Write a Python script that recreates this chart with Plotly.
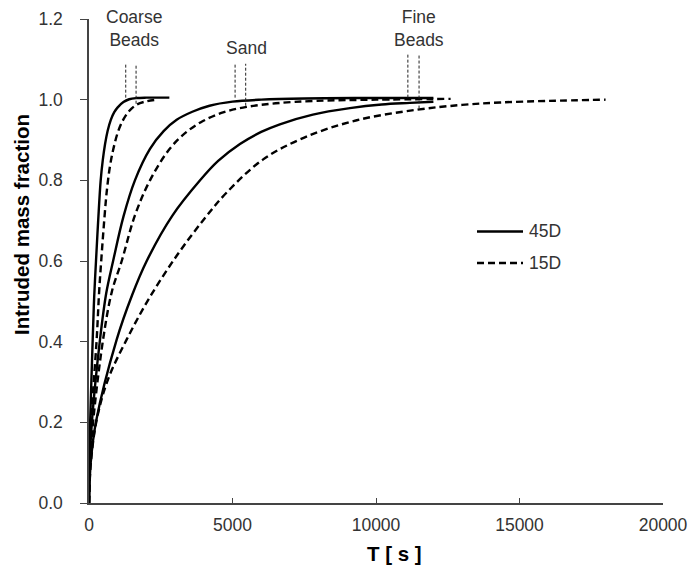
import plotly.graph_objects as go

# Intrusion time (s) and intruded mass fraction for each medium and depth
coarse_45_t = [0, 10, 40, 129, 180, 244, 320, 407, 480, 560, 650, 760, 880, 1000, 1200, 1400, 1650, 2000, 2800]
coarse_45_f = [0, 0.10, 0.20, 0.405, 0.51, 0.60, 0.70, 0.80, 0.85, 0.89, 0.923, 0.95, 0.969, 0.981,
               0.994, 1.001, 1.004, 1.005, 1.005]

coarse_15_t = [0, 20, 70, 267, 350, 440, 530, 615, 720, 840, 1000, 1190, 1400, 1670, 2000, 2370]
coarse_15_f = [0, 0.10, 0.20, 0.405, 0.52, 0.615, 0.70, 0.77, 0.83, 0.875, 0.918, 0.95, 0.972,
               0.988, 0.996, 1.0]

sand_45_t = [0, 25, 100, 383, 600, 840, 1200, 1600, 2125, 2600, 3055, 3600, 4200, 5000, 6000,
             7500, 9500, 12000]
sand_45_f = [0, 0.10, 0.20, 0.405, 0.52, 0.60, 0.71, 0.80, 0.878, 0.922, 0.95, 0.97, 0.985,
             0.995, 1.0, 1.003, 1.004, 1.004]

sand_15_t = [0, 35, 140, 490, 800, 1140, 1600, 2125, 2820, 3400, 3970, 4700, 5490, 6500, 7900,
             10000, 12600]
sand_15_f = [0, 0.10, 0.20, 0.405, 0.525, 0.60, 0.713, 0.80, 0.879, 0.92, 0.947, 0.969, 0.982,
             0.991, 0.997, 1.0, 1.002]

fine_45_t = [0, 60, 240, 964, 1500, 2010, 2900, 3870, 4500, 5260, 6000, 6650, 7800, 9090, 10200,
             11180, 12000]
fine_45_f = [0, 0.10, 0.20, 0.405, 0.515, 0.60, 0.712, 0.80, 0.848, 0.89, 0.92, 0.939, 0.963,
             0.979, 0.988, 0.992, 0.995]

fine_15_t = [0, 65, 267, 660, 1310, 2100, 3055, 4000, 4800, 6070, 7500, 9330, 11420, 13000,
             14320, 16000, 18000]
fine_15_f = [0, 0.10, 0.206, 0.306, 0.405, 0.508, 0.613, 0.703, 0.77, 0.852, 0.906, 0.949, 0.975,
             0.987, 0.993, 0.997, 1.0]

# Completion-time markers (vertical dotted lines) per medium
marker_t = [1280, 1640, 5090, 5460, 11110, 11500]
marker_low = [1.005, 0.990, 1.005, 0.985, 1.005, 0.978]
marker_high = [1.089, 1.089, 1.089, 1.089, 1.114, 1.114]

# Medium labels
label_text = ["Coarse<br>Beads", "Sand", "Fine<br>Beads"]
label_t = [1585, 5505, 11500]
label_f = [1.177, 1.129, 1.177]

x_ticks = [0, 5000, 10000, 15000, 20000]
x_tick_text = ["0", "5000", "10000", "15000", "20000"]
y_ticks = [0.0, 0.2, 0.4, 0.6, 0.8, 1.0, 1.2]

legend_names = ["45D", "15D"]

FONT = "Liberation Sans, Arial, sans-serif"
SIZE = 17.5
solid = dict(color="black", width=2.4)
dashed = dict(color="black", width=2.4, dash="7px,4px")

fig = go.Figure()

curves = [
    (coarse_45_t, coarse_45_f, solid, "Coarse Beads 45D"),
    (coarse_15_t, coarse_15_f, dashed, "Coarse Beads 15D"),
    (sand_45_t, sand_45_f, solid, "Sand 45D"),
    (sand_15_t, sand_15_f, dashed, "Sand 15D"),
    (fine_45_t, fine_45_f, solid, "Fine Beads 45D"),
    (fine_15_t, fine_15_f, dashed, "Fine Beads 15D"),
]
for t, f, style, name in curves:
    fig.add_trace(go.Scatter(
        x=t, y=f, mode="lines", line=dict(shape="spline", smoothing=1.0, **style),
        name=name, showlegend=False, hoverinfo="skip",
    ))

for t, lo, hi in zip(marker_t, marker_low, marker_high):
    fig.add_trace(go.Scatter(
        x=[t, t], y=[lo, hi], mode="lines",
        line=dict(color="#222", width=1, dash="3px,2px"),
        showlegend=False, hoverinfo="skip",
    ))

for txt, t, f in zip(label_text, label_t, label_f):
    fig.add_annotation(x=t, y=f, text=txt, showarrow=False,
                       font=dict(family=FONT, size=SIZE, color="#333"),
                       xanchor="center", yanchor="middle")

# Legend: line samples with their labels
for name, style, ypx in zip(legend_names, [solid, dashed], [231.5, 263]):
    yp = (503 - ypx) / 484
    fig.add_shape(type="line", xref="paper", yref="paper",
                  x0=(477 - 89) / 574, x1=(523 - 89) / 574, y0=yp, y1=yp, line=style)
    fig.add_annotation(xref="paper", yref="paper", x=(527 - 89) / 574, y=yp, text=name,
                       showarrow=False, xanchor="left", yanchor="middle",
                       font=dict(family=FONT, size=SIZE, color="#333"))

fig.add_annotation(xref="paper", yref="paper", x=(394 - 89) / 574, y=(503 - 553) / 484,
                   text="<b>T [ s ]</b>", showarrow=False,
                   font=dict(family=FONT, size=20.5, color="black"),
                   xanchor="center", yanchor="middle")
fig.add_annotation(xref="paper", yref="paper", x=(21 - 89) / 574, y=(503 - 225) / 484,
                   text="<b>Intruded mass fraction</b>", showarrow=False, textangle=-90,
                   font=dict(family=FONT, size=20.5, color="black"),
                   xanchor="center", yanchor="middle")

fig.update_layout(
    width=692, height=570,
    margin=dict(l=89, r=29, t=19, b=67, autoexpand=False),
    paper_bgcolor="white", plot_bgcolor="white",
    font=dict(family=FONT, size=SIZE, color="#333"),
    showlegend=False,
    xaxis=dict(range=[0, 20000], tickvals=x_ticks, ticktext=x_tick_text, ticks="inside",
               ticklen=5, showline=True, linecolor="#444", linewidth=1.5, tickcolor="#444",
               showgrid=False, zeroline=False, ticklabelstandoff=5, automargin=False),
    yaxis=dict(range=[0, 1.2], tickvals=y_ticks, tickformat=".1f", ticks="outside",
               ticklen=7, showline=True, linecolor="#444", linewidth=1.5, tickcolor="#444",
               showgrid=False, zeroline=False, ticklabelstandoff=14, automargin=False),
)

fig.write_html("out.html")
